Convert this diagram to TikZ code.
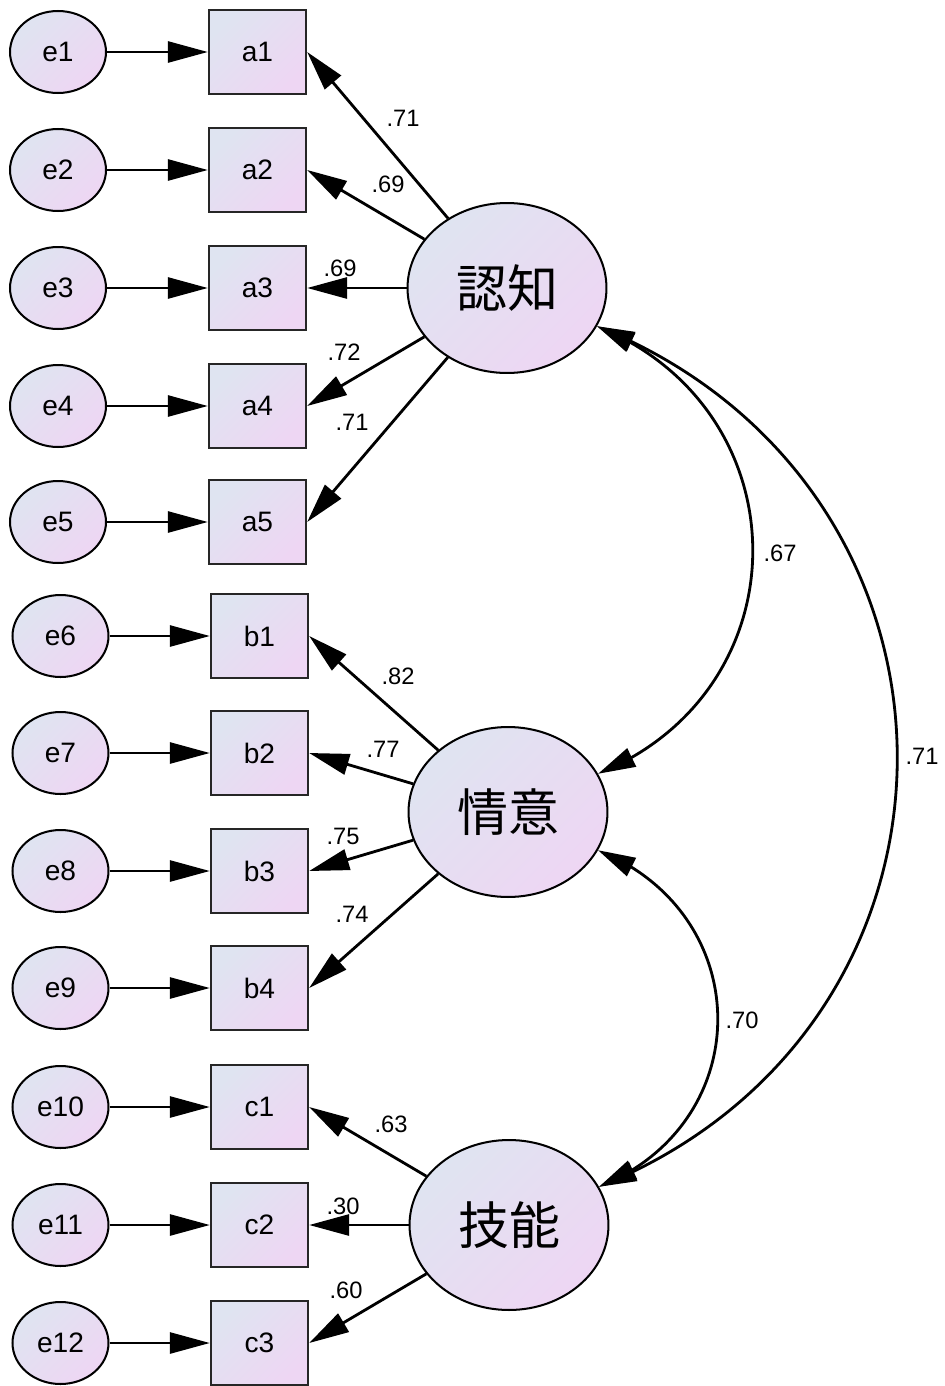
\documentclass[tikz,border=0pt]{standalone}
\usepackage{fontspec}
\setmainfont{Liberation Sans}
\newfontfamily\cjk{Noto Sans CJK JP}
\usetikzlibrary{arrows.meta,shapes.geometric,bending}
\definecolor{gA}{RGB}{223,228,241}
\definecolor{gB}{RGB}{238,214,243}
\tikzset{
  gfill/.style={top color=gA,bottom color=gB,shading angle=45},
  errnode/.style={ellipse,draw=black,line width=1.15pt,gfill,minimum width=1.92cm,minimum height=1.64cm,inner sep=0pt,font=\fontsize{16}{19}\selectfont},
  obsnode/.style={rectangle,draw=black!85,line width=1.35pt,gfill,minimum width=1.94cm,minimum height=1.68cm,inner sep=0pt,font=\fontsize{16}{19}\selectfont},
  latnode/.style={ellipse,draw=black,line width=1.15pt,gfill,minimum width=3.98cm,minimum height=3.4cm,inner sep=0pt,font=\cjk\fontsize{29}{34}\selectfont},
  patharrow/.style={-{Triangle[length=0.8cm,width=0.42cm]},line width=1.6pt},
  covarrow/.style={{Triangle[length=0.75cm,width=0.4cm]}-{Triangle[length=0.75cm,width=0.4cm]},line width=1.6pt},
  coef/.style={font=\fontsize{13.5}{16}\selectfont,inner sep=0pt}
}
\begin{document}
\begin{tikzpicture}[x=0.02cm,y=-0.02cm]
\fill[white] (0,0) rectangle (945,1386);
\useasboundingbox (0,0) rectangle (945,1386);
% observed
\node[obsnode] (a1) at (257.5,52) {a1};
\node[obsnode] (a2) at (257.5,170) {a2};
\node[obsnode] (a3) at (257.5,288) {a3};
\node[obsnode] (a4) at (257.5,406) {a4};
\node[obsnode] (a5) at (257.5,522) {a5};
\node[obsnode] (b1) at (259.5,636) {b1};
\node[obsnode] (b2) at (259.5,753) {b2};
\node[obsnode] (b3) at (259.5,871) {b3};
\node[obsnode] (b4) at (259.5,988) {b4};
\node[obsnode] (c1) at (259.5,1107) {c1};
\node[obsnode] (c2) at (259.5,1225) {c2};
\node[obsnode] (c3) at (259.5,1343) {c3};
% errors
\node[errnode] (e1) at (58,52) {e1};
\node[errnode] (e2) at (58,170) {e2};
\node[errnode] (e3) at (58,288) {e3};
\node[errnode] (e4) at (58,406) {e4};
\node[errnode] (e5) at (58,522) {e5};
\node[errnode] (e6) at (60.5,636) {e6};
\node[errnode] (e7) at (60.5,753) {e7};
\node[errnode] (e8) at (60.5,871) {e8};
\node[errnode] (e9) at (60.5,988) {e9};
\node[errnode] (e10) at (60.5,1107) {e10};
\node[errnode] (e11) at (60.5,1225) {e11};
\node[errnode] (e12) at (60.5,1343) {e12};
% latents
\node[latnode] (L1) at (507,288) {認知};
\node[latnode] (L2) at (508,812) {情意};
\node[latnode] (L3) at (509,1225) {技能};
% error arrows
\foreach \e/\o in {e1/a1,e2/a2,e3/a3,e4/a4,e5/a5,e6/b1,e7/b2,e8/b3,e9/b4,e10/c1,e11/c2,e12/c3}
  \draw[patharrow] (\e) -- (\o);
% loadings
\foreach \o in {a1,a2,a3,a4,a5}
  \draw[patharrow] (L1) -- (\o.east);
\foreach \o in {b1,b2,b3,b4}
  \draw[patharrow] (L2) -- (\o.east);
\foreach \o in {c1,c2,c3}
  \draw[patharrow] (L3) -- (\o.east);
% covariances
\draw[covarrow] (L1.-23) .. controls +(207,84) and +(207,-84) .. (L2.23);
\draw[covarrow] (L2.-23) .. controls +(159,64) and +(159,-64) .. (L3.23);
\draw[covarrow] (L1.-23) .. controls +(399,161) and +(399,-161) .. (L3.23);
% coefficients
\node[coef] (ka1) at (403,118) {.71};
\node[coef] (ka2) at (388,184) {.69};
\node[coef] (ka3) at (340,268) {.69};
\node[coef] (ka4) at (344,352) {.72};
\node[coef] (ka5) at (352,422) {.71};
\node[coef] (kb1) at (398,676) {.82};
\node[coef] (kb2) at (383,749) {.77};
\node[coef] (kb3) at (343,836) {.75};
\node[coef] (kb4) at (352,914) {.74};
\node[coef] (kc1) at (391,1124) {.63};
\node[coef] (kc2) at (343,1206) {.30};
\node[coef] (kc3) at (346,1290) {.60};
\node[coef] (r12) at (780,553) {.67};
\node[coef] (r13) at (922,756) {.71};
\node[coef] (r23) at (742,1020) {.70};
\end{tikzpicture}
\end{document}
